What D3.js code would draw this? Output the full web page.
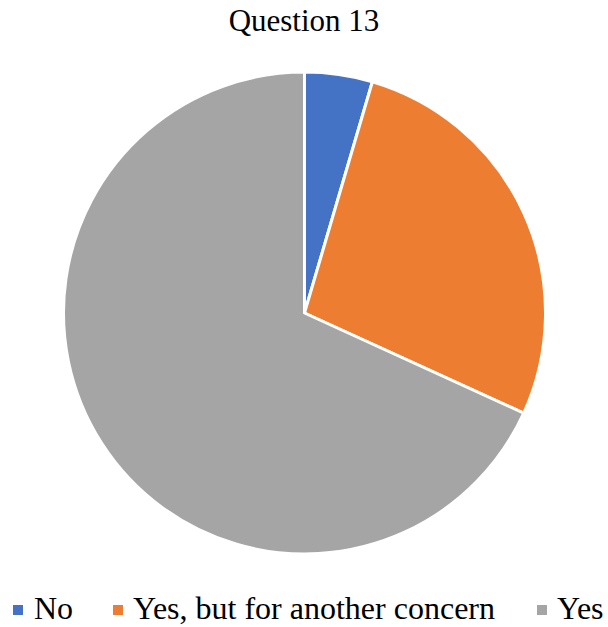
<!DOCTYPE html>
<html><head><meta charset="utf-8">
<script src="https://cdn.jsdelivr.net/npm/d3@7"></script>
<style>
body{margin:0;background:#fff;font-family:"Liberation Serif","Times New Roman",serif}
svg{display:block}
svg text{font-family:"Liberation Serif","Times New Roman",serif}
.pre{position:absolute;left:0;top:0;color:#fff;font-size:1px;opacity:0.01}
</style>
</head><body>
<div class="pre">Question No Yes</div>
<svg id="c" width="608" height="627"></svg>
<script>
const categories = ["No", "Yes, but for another concern", "Yes"];
const values = [2, 12, 30];
const colors = ["#4472C4", "#ED7D31", "#A5A5A5"];
const title = "Question 13";

const svg = d3.select("#c");
const cx = 304.5, cy = 313, r = 241;

svg.append("text").attr("x", 304).attr("y", 31).attr("text-anchor", "middle")
  .attr("font-size", 31).attr("fill", "#000").text(title);

const pie = d3.pie().sort(null).value(d => d)(values);
const arc = d3.arc().innerRadius(0).outerRadius(r);
const g = svg.append("g").attr("transform", `translate(${cx},${cy})`);
g.selectAll("path").data(pie).join("path")
  .attr("d", arc).attr("fill", (d, i) => colors[i])
  .attr("stroke", "#fff").attr("stroke-width", 3).attr("stroke-linejoin", "round");

const squareX = [13, 113, 537];
const textX = [34, 133, 557];
const lg = svg.append("g");
categories.forEach((c, i) => {
  lg.append("rect").attr("x", squareX[i]).attr("y", 605).attr("width", 10).attr("height", 10).attr("fill", colors[i]);
  lg.append("text").attr("x", textX[i]).attr("y", 619)
    .attr("font-size", 32).attr("fill", "#000").text(c);
});
</script>
</body></html>
